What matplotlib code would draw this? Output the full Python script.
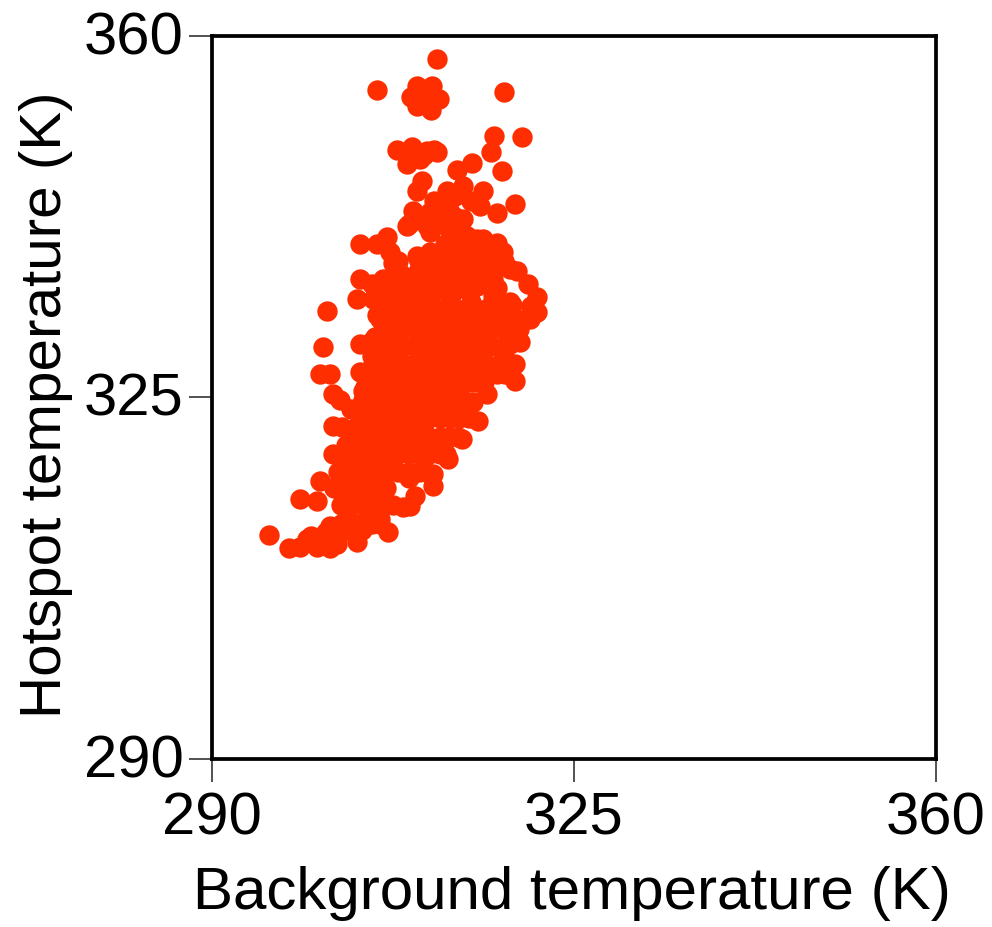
import matplotlib
matplotlib.use('Agg')
import matplotlib.pyplot as plt
from matplotlib.transforms import ScaledTranslation

# kelvin
bg_top = [311.8, 306.0, 318.2, 309.8, 311.3, 309.2, 311.9, 309.8, 311.2, 310.4,
          317.3, 320.0, 317.0, 318.0, 319.3, 315.1, 313.7, 307.9, 309.3, 308.9,
          310.8, 311.8, 308.9, 310.1, 310.3, 309.8, 312.7, 314.3, 316.2, 315.9,
          317.6, 309.4, 308.9, 310.5, 311.5, 312.5, 313.5, 315.0]
hot_top = [357.8, 354.8, 354.6, 355.2, 355.2, 354.1, 353.9, 353.2, 352.8, 353.6,
           350.3, 350.2, 348.8, 346.9, 343.7, 347.7, 347.0, 349.0, 349.3, 348.6,
           348.9, 348.8, 347.6, 348.1, 346.0, 345.0, 345.0, 345.5, 345.0, 343.5,
           342.9, 343.1, 341.6, 348.5, 349.0, 344.0, 344.5, 344.0]

bg_edge = [304.3, 306.0, 306.9, 307.2, 317.6, 316.2, 318.1, 319.5, 320.6, 321.4,
           304.3, 305.5, 304.0, 305.6, 301.1, 300.7, 300.4, 301.4, 301.7, 302.4,
           301.7, 304.3, 304.3, 304.6, 304.0, 301.7, 300.4, 298.5, 300.2, 295.5,
           297.4, 299.2, 298.5, 300.2, 301.4, 302.1, 304.0, 301.4, 303.1, 306.2,
           309.1, 311.4, 312.8, 314.2, 315.7, 316.6, 319.3, 319.3, 321.4, 319.8,
           318.3, 319.0, 320.0, 320.7, 319.7, 318.8, 318.1, 317.6, 318.3]
hot_edge = [339.9, 339.9, 340.5, 339.1, 340.0, 340.3, 339.1, 337.2, 336.0, 334.7,
            336.5, 336.0, 334.5, 334.5, 333.4, 329.9, 327.3, 327.3, 325.3, 324.8,
            322.2, 330.2, 327.5, 324.8, 322.2, 319.5, 316.9, 315.2, 315.0, 311.7,
            310.4, 311.3, 310.5, 310.5, 310.4, 310.8, 311.0, 312.6, 313.2, 313.2,
            314.5, 316.4, 319.0, 321.0, 322.7, 325.3, 326.6, 328.2, 333.3, 330.4,
            328.7, 334.0, 332.5, 332.6, 331.6, 330.2, 328.7, 327.3, 327.3]

bg_mid = [311.1, 313.0, 314.3, 311.1, 313.3, 314.7, 309.8, 311.1, 314.7, 316.9,
          308.2, 309.8, 311.8, 313.7, 315.6, 317.2, 318.8, 307.5, 309.4, 311.4,
          313.3, 314.9, 317.2, 318.8, 306.5, 320.8,
          308.0, 310.0, 312.0, 314.0, 316.0, 318.0, 319.5,
          307.0, 309.0, 311.0, 313.0, 315.0, 317.0, 318.8,
          306.0, 308.5, 310.5, 312.5, 314.5, 316.5, 318.0,
          305.6, 307.5, 309.5, 311.5, 313.5, 315.5, 317.3,
          305.2, 307.0, 309.0, 311.0, 313.0, 315.0, 316.3,
          305.5, 307.5, 309.5, 311.5, 313.5, 315.2,
          305.0, 307.0, 309.0, 311.0, 313.0, 314.8,
          304.0, 306.0, 308.0, 310.0, 312.0, 313.8,
          303.0, 305.0, 307.0, 309.0, 311.0, 312.6,
          302.2, 304.0, 306.0, 308.0, 310.0, 311.4,
          301.8, 303.5, 305.5, 306.8, 309.6,
          302.5, 304.5, 306.5, 308.5,
          302.5, 304.0, 305.5, 307.0]
hot_mid = [343.0, 343.0, 342.3, 341.0, 340.6, 340.6, 338.7, 339.1, 338.6, 339.1,
           337.1, 337.1, 337.1, 337.4, 336.5, 336.5, 337.4, 335.8, 335.2, 335.2,
           335.2, 335.2, 334.8, 334.2, 334.8, 333.9,
           333.5, 333.5, 333.5, 333.5, 333.5, 333.0, 332.5,
           331.8, 331.8, 331.8, 331.8, 331.8, 331.5, 331.5,
           330.0, 330.0, 330.0, 330.0, 330.0, 330.0, 329.8,
           328.2, 328.2, 328.2, 328.2, 328.2, 328.2, 328.0,
           326.5, 326.5, 326.5, 326.5, 326.5, 326.5, 326.5,
           324.8, 324.8, 324.8, 324.8, 324.8, 324.6,
           323.0, 323.0, 323.0, 323.0, 323.0, 323.0,
           321.2, 321.2, 321.2, 321.2, 321.2, 321.2,
           319.5, 319.5, 319.5, 319.5, 319.5, 319.5,
           317.8, 317.8, 317.8, 317.8, 317.8, 317.6,
           316.2, 316.2, 316.2, 316.2, 315.5,
           314.6, 314.6, 314.6, 314.4,
           312.8, 312.8, 312.8, 312.0]

# points between the rows above, the dense part of the cloud
bg_fill = [309.0, 310.8, 312.6, 314.2, 316.2, 308.0, 310.0, 312.0, 314.0, 316.2, 318.0,
           307.4, 309.6, 311.6, 313.6, 315.6, 317.6, 306.6, 309.0, 311.0, 313.0, 315.0, 317.0,
           306.2, 308.4, 310.4, 312.4, 314.4, 316.4, 305.8, 308.0, 310.0, 312.0, 314.0, 315.6,
           306.2, 308.0, 310.0, 312.0, 314.0, 315.0, 305.4, 307.6, 309.6, 311.6, 313.6,
           304.6, 306.6, 308.6, 310.6, 312.6, 303.4, 305.6, 307.6, 309.6, 311.6,
           302.6, 304.6, 306.6, 308.6, 310.4, 303.0, 304.8, 306.4, 309.4,
           302.8, 304.6, 306.6, 303.2, 305.0, 306.4, 302.8, 304.4, 299.6, 301.0]
hot_fill = [341.8, 341.6, 341.6, 341.0, 338.2, 338.2, 338.2, 338.4, 338.2, 338.4, 337.8,
            336.2, 336.2, 336.2, 336.2, 335.8, 335.6, 334.4, 334.4, 334.4, 334.4, 334.2, 334.0,
            332.6, 332.6, 332.6, 332.6, 332.6, 332.6, 330.9, 330.9, 330.9, 330.9, 330.9, 330.8,
            329.1, 329.1, 329.1, 329.1, 329.1, 329.1, 327.4, 327.4, 327.4, 327.4, 327.4,
            325.6, 325.6, 325.6, 325.6, 325.6, 323.9, 323.9, 323.9, 323.9, 323.9,
            322.1, 322.1, 322.1, 322.1, 322.1, 320.4, 320.4, 320.4, 320.4,
            318.6, 318.6, 318.6, 317.0, 317.0, 317.0, 315.4, 315.4, 311.6, 312.0]

bg_core = [309.0, 311.0, 313.0, 315.0, 317.0,
           308.0, 310.0, 312.0, 314.0, 316.0, 318.0,
           307.0, 309.5, 311.5, 313.5, 315.5, 317.0,
           306.5, 308.5, 310.5, 312.5, 314.5, 316.5,
           306.0, 308.0, 310.0, 312.0, 314.0, 315.6,
           306.5, 308.5, 310.5, 312.5, 314.3,
           306.0, 308.0, 310.0, 312.0, 313.9,
           305.0, 307.0, 309.0, 311.0, 312.9,
           304.0, 306.0, 308.0, 310.0, 312.0,
           303.0, 305.0, 307.0, 309.0, 310.7,
           302.5, 304.5, 306.5, 309.0,
           303.5, 305.5, 307.5,
           303.2, 304.8, 306.2, 302.5, 304.5, 305.5,
           312.0, 313.5, 315.8, 310.8, 312.8, 314.8, 316.5,
           308.6, 310.6, 312.6, 314.6, 307.8, 312.0, 313.5, 311.5,
           305.5, 306.5, 305.5, 305.2, 305.5, 306.0, 307.0, 307.0, 306.5, 307.5, 305.5, 304.8,
           312.2, 313.2, 310.3, 312.5, 311.9, 314.0, 315.3, 316.0, 318.2, 317.0, 315.6]
hot_core = [333.5, 333.5, 333.5, 333.5, 333.5,
            331.8, 331.8, 331.8, 331.8, 331.8, 331.6,
            330.0, 330.0, 330.0, 330.0, 330.0, 330.0,
            328.2, 328.2, 328.2, 328.2, 328.2, 328.2,
            326.5, 326.5, 326.5, 326.5, 326.5, 326.5,
            324.8, 324.8, 324.8, 324.8, 324.8,
            323.0, 323.0, 323.0, 323.0, 323.0,
            321.2, 321.2, 321.2, 321.2, 321.2,
            319.5, 319.5, 319.5, 319.5, 319.5,
            317.8, 317.8, 317.8, 317.8, 317.8,
            316.2, 316.2, 316.2, 317.2,
            314.6, 314.6, 314.6,
            312.8, 312.8, 312.8, 312.0, 312.2, 313.8,
            339.0, 339.0, 339.0, 337.5, 337.5, 337.5, 337.5,
            336.0, 336.0, 336.0, 336.0, 335.0, 342.5, 342.5, 344.0,
            330.5, 331.5, 329.0, 327.5, 325.5, 333.0, 333.5, 335.0, 336.5, 338.0, 323.5, 326.0,
            344.0, 342.2, 342.2, 339.9, 342.5, 339.7, 339.3, 337.5, 338.2, 337.6, 340.3]

ticks = [290, 325, 360]

plt.rcParams['font.family'] = ['Liberation Sans', 'DejaVu Sans']

fig = plt.figure(figsize=(9.92, 9.28), dpi=100)
ax = fig.add_axes([212 / 992, 1 - 760 / 928, 724 / 992, 723 / 928])

for xs, ys in [(bg_top, hot_top), (bg_edge, hot_edge), (bg_mid, hot_mid),
               (bg_fill, hot_fill), (bg_core, hot_core)]:
    ax.scatter(xs, ys, s=215, color='#ff2e00', linewidths=0, clip_on=False)

ax.set_xlim(290, 360)
ax.set_ylim(290, 360)
ax.set_xticks(ticks)
ax.set_yticks(ticks)
ax.tick_params(length=16.5, width=1.2, color='#333333', labelsize=43)
ax.tick_params(axis='x', pad=6)
ax.tick_params(axis='y', pad=4)
for s in ax.spines.values():
    s.set_linewidth(2.7)
ax.set_xlabel('Background temperature (K)', fontsize=43.3, labelpad=14, x=0.497)
ax.set_ylabel('Hotspot temperature (K)', fontsize=42, labelpad=8, y=0.492)

# y tick labels sit a little higher than centred
up = ScaledTranslation(0, 3 / 72, fig.dpi_scale_trans)
for t in ax.get_yticklabels():
    t.set_transform(t.get_transform() + up)

fig.savefig('out.png', dpi=100)
